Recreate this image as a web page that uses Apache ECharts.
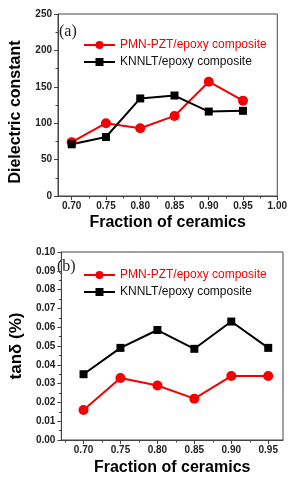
<!DOCTYPE html>
<html>
<head>
<meta charset="utf-8">
<script src="https://cdn.jsdelivr.net/npm/echarts@6/dist/echarts.min.js"></script>
<style>
  html, body { margin: 0; padding: 0; background: #fff; }
  #chart { width: 290px; height: 480px; }
</style>
</head>
<body>
<div id="chart"></div>
<script>
// fraction of ceramics (x values)
const fraction = [0.70, 0.75, 0.80, 0.85, 0.90, 0.95];
// (a) dielectric constant
const epsPMN = [74, 100, 93, 110, 157, 131];
const epsKNN = [71, 81, 134, 138, 116, 117];
// (b) tan delta
const tanPMN = [0.016, 0.033, 0.029, 0.022, 0.034, 0.034];
const tanKNN = [0.035, 0.049, 0.0585, 0.0485, 0.063, 0.049];
// tick positions
const ticksTopX = [0.70, 0.75, 0.80, 0.85, 0.90, 0.95, 1.00];
const minorTopX = [0.725, 0.775, 0.825, 0.875, 0.925, 0.975];
const ticksBotX = [0.70, 0.75, 0.80, 0.85, 0.90, 0.95];
const minorBotX = [0.675, 0.725, 0.775, 0.825, 0.875, 0.925];

const nameRed = 'PMN-PZT/epoxy composite';
const nameBlack = 'KNNLT/epoxy composite';
const RED = '#f40000';
const AX = '#444';

const pairs = (xs, ys) => xs.map((x, i) => [x, ys[i]]);

const lblStyle = { color: '#222', fontSize: 10, fontWeight: 'bold', fontFamily: 'Liberation Sans, Arial' };
const titleStyle = { color: '#000', fontSize: 16, fontWeight: 'bold', fontFamily: 'Liberation Sans, Arial' };

const mainX = (grid, min, max, ticks, gap) => ({
  type: 'value', gridIndex: grid, min: min, max: max, position: 'bottom',
  name: 'Fraction of ceramics', nameLocation: 'middle', nameGap: gap, nameTextStyle: titleStyle,
  axisLine: { onZero: false, lineStyle: { color: AX, width: 1 } },
  axisTick: { show: true, inside: false, length: 4, customValues: ticks, lineStyle: { color: AX } },
  axisLabel: { customValues: ticks, margin: 5, formatter: v => v.toFixed(2), ...lblStyle },
  splitLine: { show: false }
});
const minorX = (grid, min, max, ticks) => ({
  type: 'value', gridIndex: grid, min: min, max: max, position: 'bottom',
  axisLine: { show: false },
  axisTick: { show: true, length: 2.5, customValues: ticks, lineStyle: { color: AX } },
  axisLabel: { show: false },
  splitLine: { show: false }
});

const lineSeries = (name, data, xi, yi, color, symbol, size) => ({
  name: name, type: 'line', xAxisIndex: xi, yAxisIndex: yi, data: data,
  symbol: symbol, symbolSize: size,
  lineStyle: { color: color, width: 2 },
  itemStyle: { color: color },
  emphasis: { disabled: true }, animation: false
});

const legend = (top) => ({
  orient: 'vertical', left: 78, top: top, itemWidth: 31, itemHeight: 10, itemGap: 5,
  textStyle: { fontSize: 12, fontFamily: 'Liberation Sans, Arial' },
  data: [
    { name: nameRed, textStyle: { color: RED } },
    { name: nameBlack, textStyle: { color: '#111' } }
  ]
});

const option = {
  animation: false,
  grid: [
    { left: 54, top: 14, right: 8, height: 182, show: true, borderColor: AX, borderWidth: 1 },
    { left: 52, top: 252, right: 7, height: 188, show: true, borderColor: AX, borderWidth: 1 }
  ],
  legend: [legend(34), legend(264)],
  xAxis: [
    mainX(0, 0.68, 1.00, ticksTopX, 19),
    minorX(0, 0.68, 1.00, minorTopX),
    mainX(1, 0.67, 0.97, ticksBotX, 20),
    minorX(1, 0.67, 0.97, minorBotX)
  ],
  yAxis: [
    {
      type: 'value', gridIndex: 0, min: 0, max: 250, interval: 50,
      name: 'Dielectric constant', nameLocation: 'middle', nameGap: 34,
      nameTextStyle: { ...titleStyle, padding: [0, 14, 0, 0] },
      axisLine: { show: true, lineStyle: { color: AX } },
      axisTick: { show: true, length: 4, lineStyle: { color: AX } },
      minorTick: { show: true, splitNumber: 2, length: 2.5, lineStyle: { color: AX } },
      axisLabel: { margin: 6, ...lblStyle },
      splitLine: { show: false }
    },
    {
      type: 'value', gridIndex: 1, min: 0, max: 0.10, interval: 0.01,
      name: 'tanδ (%)', nameLocation: 'middle', nameGap: 34,
      nameTextStyle: { ...titleStyle, fontSize: 17 },
      axisLine: { show: true, lineStyle: { color: AX } },
      axisTick: { show: true, length: 4, lineStyle: { color: AX } },
      minorTick: { show: true, splitNumber: 2, length: 2.5, lineStyle: { color: AX } },
      axisLabel: { margin: 6, formatter: v => v.toFixed(2), ...lblStyle },
      splitLine: { show: false }
    }
  ],
  graphic: [
    { type: 'text', left: 59, top: 24, style: { text: '(a)', fontSize: 16, fontFamily: 'Liberation Serif, Times New Roman', fill: '#222' } },
    { type: 'text', left: 57, top: 259, style: { text: '(b)', fontSize: 16, fontFamily: 'Liberation Serif, Times New Roman', fill: '#222' } }
  ],
  series: [
    lineSeries(nameRed, pairs(fraction, epsPMN), 0, 0, RED, 'circle', 10),
    lineSeries(nameBlack, pairs(fraction, epsKNN), 0, 0, '#000', 'rect', 8),
    lineSeries(nameRed, pairs(fraction, tanPMN), 2, 1, RED, 'circle', 10),
    lineSeries(nameBlack, pairs(fraction, tanKNN), 2, 1, '#000', 'rect', 8)
  ]
};

const box = echarts.init(document.getElementById('chart'));
box.setOption(option);
</script>
</body>
</html>
